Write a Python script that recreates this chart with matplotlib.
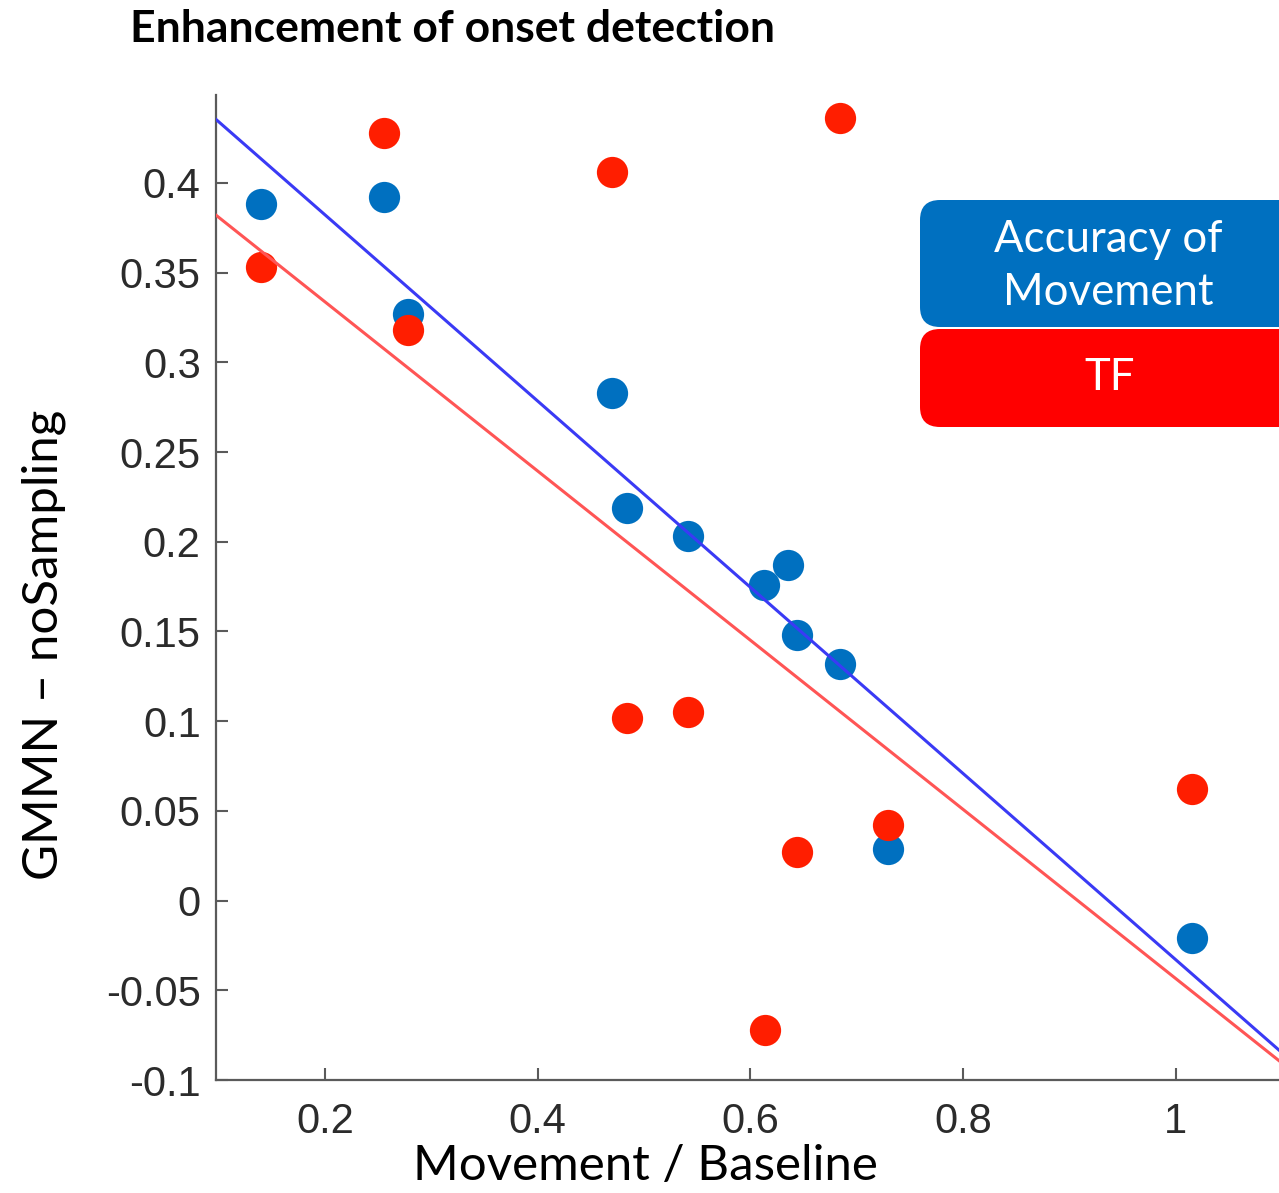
import matplotlib
matplotlib.use("Agg")
import matplotlib.pyplot as plt
from matplotlib.patches import FancyBboxPatch
from matplotlib.transforms import IdentityTransform
import numpy as np

# movement / baseline ratio per subject
acc_x = [0.14, 0.255, 0.278, 0.470, 0.484, 0.541, 0.613, 0.635, 0.644, 0.684, 0.729, 1.015]
acc_y = [0.388, 0.392, 0.327, 0.283, 0.219, 0.203, 0.176, 0.187, 0.148, 0.132, 0.029, -0.021]

tf_x = [0.14, 0.255, 0.278, 0.470, 0.484, 0.541, 0.614, 0.644, 0.684, 0.729, 1.015]
tf_y = [0.353, 0.428, 0.318, 0.406, 0.102, 0.105, -0.072, 0.027, 0.436, 0.042, 0.062]

# linear fits (slope, intercept)
acc_fit = (-0.519, 0.486)
tf_fit = (-0.4715, 0.428)

xticks = [0.2, 0.4, 0.6, 0.8, 1.0]
xticklabels = ["0.2", "0.4", "0.6", "0.8", "1"]
yticks = [-0.1, -0.05, 0, 0.05, 0.1, 0.15, 0.2, 0.25, 0.3, 0.35, 0.4]
yticklabels = ["-0.1", "-0.05", "0", "0.05", "0.1", "0.15", "0.2", "0.25", "0.3", "0.35", "0.4"]

W, H = 1279, 1193
fig = plt.figure(figsize=(W / 100, H / 100), dpi=100)
ax = fig.add_axes([216 / W, 1 - 1080 / H, (W - 216) / W, (1080 - 95) / H])

blue_dot = "#0070C0"
red_dot = "#FF1E00"

ax.plot(acc_x, acc_y, "o", color=blue_dot, markersize=22.5, markeredgewidth=0, zorder=2)
ax.plot(tf_x, tf_y, "o", color=red_dot, markersize=22.5, markeredgewidth=0, zorder=3)

xs = np.array([0.0, 1.2])
ax.plot(xs, acc_fit[0] * xs + acc_fit[1], color="#3A3AF5", lw=2.2, zorder=4)
ax.plot(xs, tf_fit[0] * xs + tf_fit[1], color="#FF5555", lw=2.2, zorder=4)

ax.set_xlim(0.0975, 1.097)
ax.set_ylim(-0.1, 0.449)

for s in ["top", "right"]:
    ax.spines[s].set_visible(False)
for s in ["left", "bottom"]:
    ax.spines[s].set_color("#5a5a5a")
    ax.spines[s].set_linewidth(1.6)

ax.set_xticks(xticks)
ax.set_xticklabels(xticklabels)
ax.set_yticks(yticks)
ax.set_yticklabels(yticklabels)
ax.tick_params(direction="in", length=8.5, width=1.5, color="#5a5a5a",
               labelsize=30, labelcolor="#2b2b2b")
ax.tick_params(axis="y", pad=11)
ax.tick_params(axis="x", pad=16)
for lab in ax.get_xticklabels() + ax.get_yticklabels():
    lab.set_family("Liberation Sans")

# title and axis labels
fig.text(130 / W, 1 - 42 / H, "Enhancement of onset detection", family="Lato",
         weight="bold", fontsize=32, ha="left", va="baseline")
fig.text(645 / W, 1 - 1180 / H, "Movement / Baseline", family="Lato",
         fontsize=35.5, ha="center", va="baseline")
fig.text(44 / W, 1 - 645 / H, "GMMN \u2013 noSampling", family="Lato",
         fontsize=35.5, ha="center", va="center", rotation=90)

# legend boxes
px = IdentityTransform()
fig.patches.append(FancyBboxPatch((920, H - 327), 420, 127,
                                  boxstyle="round,pad=0,rounding_size=20",
                                  fc="#0070C0", ec="none", transform=px, figure=fig))
fig.patches.append(FancyBboxPatch((920, H - 427), 420, 98,
                                  boxstyle="round,pad=0,rounding_size=20",
                                  fc="#FF0000", ec="none", transform=px, figure=fig))
fig.text(1108 / W, 1 - 266 / H, "Accuracy of\nMovement", family="Lato", color="white",
         fontsize=31.5, ha="center", va="center", linespacing=1.35)
fig.text(1110 / W, 1 - 378 / H, "TF", family="Lato", color="white",
         fontsize=31.5, ha="center", va="center")

fig.savefig("out.png", dpi=100)
